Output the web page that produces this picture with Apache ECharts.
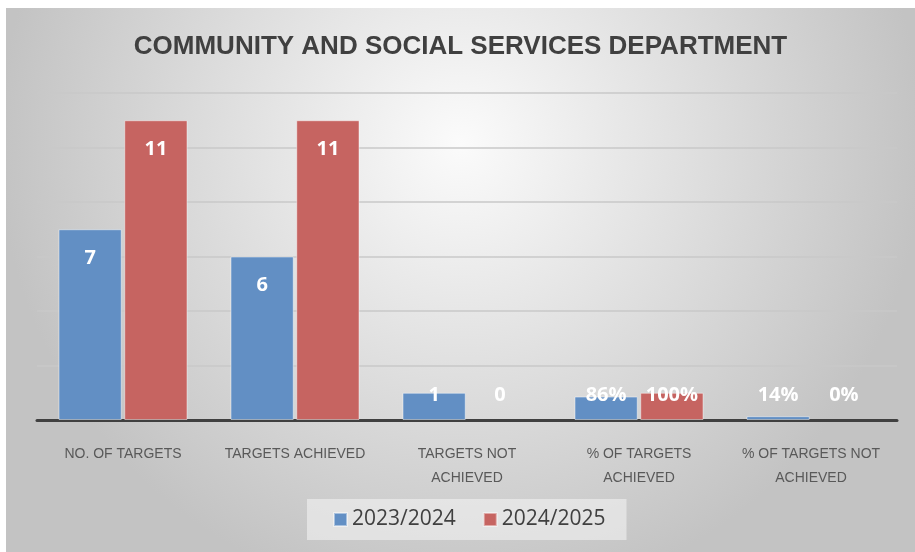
<!DOCTYPE html>
<html>
<head>
<meta charset="utf-8">
<script src="https://cdn.jsdelivr.net/npm/echarts@6/dist/echarts.min.js"></script>
<style>
  html, body { margin: 0; padding: 0; background: #ffffff; width: 915px; height: 552px; overflow: hidden; }
  #chart { position: absolute; left: 6px; top: 8px; width: 909px; height: 544px; }
</style>
</head>
<body>
<div id="chart"></div>
<script>
// ---- data ----
const titleText = 'COMMUNITY AND SOCIAL SERVICES DEPARTMENT';
const categories = ['NO. OF TARGETS', 'TARGETS ACHIEVED', 'TARGETS NOT\nACHIEVED', '% OF TARGETS\nACHIEVED', '% OF TARGETS NOT\nACHIEVED'];
const seriesNames = ['2023/2024', '2024/2025'];
const values2023 = [7, 6, 1, 0.86, 0.14];
const values2024 = [11, 11, 0, 1.00, 0];
const percentCategories = [false, false, false, true, true];
const yMin = 0, yMax = 12, yInterval = 2;

// ---- chart ----
const chart = echarts.init(document.getElementById('chart'), null, { renderer: 'canvas' });

function fmt(v, i) {
  return percentCategories[i] ? Math.round(v * 100) + '%' : String(v);
}
function buildData(vals) {
  return vals.map((v, i) => ({
    value: v,
    itemStyle: v === 0 ? { borderWidth: 0 } : {},
    label: v < 2
      ? { position: 'insideBottom', distance: 15 }
      : { position: 'insideTop', distance: 19 }
  }));
}
const labelStyle = {
  show: true,
  color: '#ffffff',
  fontFamily: 'Open Sans',
  fontWeight: 'bold',
  fontSize: 20,
  formatter: p => fmt(p.value, p.dataIndex)
};

chart.setOption({
  backgroundColor: {
    type: 'radial', x: 0.5, y: 0.25, r: 0.85,
    colorStops: [
      { offset: 0, color: '#fbfbfb' },
      { offset: 1, color: '#c3c3c3' }
    ]
  },
  animation: false,
  title: {
    text: titleText,
    left: 'center',
    top: 21,
    textStyle: {
      fontFamily: 'Liberation Sans',
      fontWeight: 'bold',
      fontSize: 26,
      color: '#404040'
    }
  },
  legend: {
    data: seriesNames,
    left: 301,
    top: 491,
    padding: [10, 21, 10, 26],
    backgroundColor: 'rgba(245,245,245,0.55)',
    itemWidth: 13,
    itemHeight: 13,
    itemGap: 27,
    icon: 'rect',
    textStyle: { fontFamily: 'Open Sans', fontSize: 21, color: '#404040' }
  },
  grid: { left: 31, right: 18, top: 85, bottom: 132, containLabel: false },
  xAxis: {
    type: 'category',
    data: categories,
    axisLine: { show: true, lineStyle: { color: '#404040', width: 3 } },
    axisTick: { show: false },
    axisLabel: {
      interval: 0,
      margin: 22,
      color: '#595959',
      fontFamily: 'Liberation Sans',
      fontSize: 14,
      lineHeight: 24
    }
  },
  yAxis: {
    type: 'value',
    min: yMin, max: yMax, interval: yInterval,
    axisLabel: { show: false },
    axisLine: { show: false },
    axisTick: { show: false },
    splitLine: { lineStyle: { color: '#c8c8c8', width: 1.5 } }
  },
  series: [
    {
      name: seriesNames[0], type: 'bar',
      data: buildData(values2023),
      barGap: '4%', barCategoryGap: '25%',
      itemStyle: { color: '#628fc4', borderColor: 'rgba(255,255,255,0.45)', borderWidth: 1 },
      label: labelStyle
    },
    {
      name: seriesNames[1], type: 'bar',
      data: buildData(values2024),
      itemStyle: { color: '#c66461', borderColor: 'rgba(255,255,255,0.45)', borderWidth: 1 },
      label: labelStyle
    }
  ]
});
</script>
</body>
</html>
